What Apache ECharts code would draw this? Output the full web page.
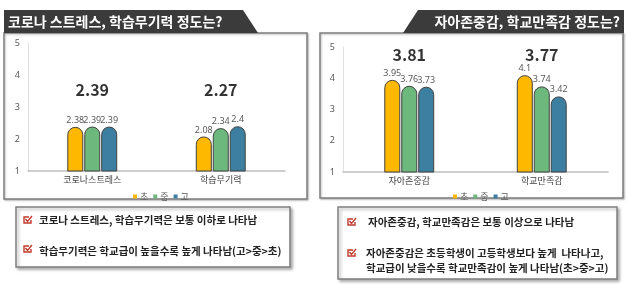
<!DOCTYPE html>
<html>
<head>
<meta charset="utf-8">
<script src="https://cdn.jsdelivr.net/npm/echarts@6/dist/echarts.min.js"></script>
<style>
  html, body { margin: 0; padding: 0; background: #fff; }
  #chart { width: 627px; height: 287px; }
</style>
</head>
<body>
<div id="chart"></div>
<script>
const seriesNames = ["초", "중", "고"];
const seriesColors = ["#FFB800", "#6DB87D", "#3D7FA0"];

// left chart
const leftCategories = ["코로나스트레스", "학습무기력"];
const leftElementary = [2.38, 2.08];
const leftMiddle = [2.39, 2.34];
const leftHigh = [2.39, 2.4];
const leftTotals = [2.39, 2.27];

// right chart
const rightCategories = ["자아존중감", "학교만족감"];
const rightElementary = [3.95, 4.1];
const rightMiddle = [3.76, 3.74];
const rightHigh = [3.73, 3.42];
const rightTotals = [3.81, 3.77];

const yTicks = [1, 2, 3, 4, 5];

const leftTitle = "코로나 스트레스, 학습무기력 정도는?";
const rightTitle = "자아존중감, 학교만족감 정도는?";
const leftNotes = [
  "코로나 스트레스, 학습무기력은 보통 이하로 나타남",
  "학습무기력은 학교급이 높을수록 높게 나타남(고>중>초)",
];
const rightNotes = [
  "자아존중감, 학교만족감은 보통 이상으로 나타남",
  "자아존중감은 초등학생이 고등학생보다 높게  나타나고,",
  "학교급이 낮을수록 학교만족감이 높게 나타남(초>중>고)",
];

const FONT = '"Noto Sans CJK KR", "Noto Sans", sans-serif';

function barSeries(name, color, values, axisIndex) {
  return {
    type: "bar",
    name,
    xAxisIndex: axisIndex,
    yAxisIndex: axisIndex,
    data: values,
    barWidth: 16,
    barGap: "6%",
    itemStyle: {
      color,
      borderColor: "#404040",
      borderWidth: 1,
      borderRadius: [8, 8, 0, 0],
    },
    label: {
      show: true,
      position: "top",
      distance: 2,
      fontFamily: '"Noto Sans", sans-serif',
      fontSize: 9,
      color: "#595959",
    },
  };
}

function totalSeries(totals, level, axisIndex) {
  return {
    type: "scatter",
    xAxisIndex: axisIndex,
    yAxisIndex: axisIndex,
    data: totals.map(() => level),
    symbolSize: 1,
    itemStyle: { color: "rgba(0,0,0,0)" },
    silent: true,
    label: {
      show: true,
      position: "inside",
      formatter: (p) => totals[p.dataIndex].toFixed(2),
      fontFamily: FONT,
      fontSize: 16,
      fontWeight: "bold",
      color: "#000",
    },
  };
}

function checkIcon(x, y) {
  return {
    type: "group",
    x,
    y,
    children: [
      {
        type: "polyline",
        shape: { points: [[5, 0], [0, 0], [0, 6], [7, 6], [7, 3]] },
        style: { stroke: "#C0392B", lineWidth: 1.4, fill: null },
      },
      {
        type: "polyline",
        shape: { points: [[1.5, 2], [3.5, 4.5], [8, -1]] },
        style: { stroke: "#C0392B", lineWidth: 1.4, fill: null },
      },
    ],
  };
}

function noteText(x, y, text) {
  return {
    type: "text",
    x,
    y,
    style: {
      text,
      fontFamily: FONT,
      fontSize: 10.5,
      fontWeight: "bold",
      fill: "#222",
      textVerticalAlign: "middle",
    },
  };
}

const yAxisBase = {
  type: "value",
  min: 1,
  max: 5,
  interval: 1,
  axisLine: { show: true, lineStyle: { color: "#E0E0E0" } },
  axisTick: { show: false },
  splitLine: { show: false },
  axisLabel: { color: "#595959", fontSize: 9, fontFamily: '"Noto Sans", sans-serif', margin: 8 },
};

const xAxisBase = {
  type: "category",
  axisLine: { lineStyle: { color: "#BFBFBF", width: 1.5 } },
  axisTick: { show: false },
  axisLabel: { color: "#404040", fontSize: 9, fontFamily: FONT, margin: 4 },
};

const legendBase = {
  data: seriesNames,
  icon: "rect",
  itemWidth: 4,
  itemHeight: 4,
  itemGap: 5,
  itemStyle: { borderWidth: 0 },
  textStyle: { fontSize: 9, color: "#595959", fontFamily: FONT, padding: [0, 0, 0, -2] },
};

const chart = echarts.init(document.getElementById("chart"));
chart.setOption({
  animation: false,
  color: seriesColors,
  grid: [
    { left: 28, right: 342, top: 43, bottom: 116 },
    { left: 343, right: 19, top: 47, bottom: 115 },
  ],
  xAxis: [
    { ...xAxisBase, gridIndex: 0, data: leftCategories },
    { ...xAxisBase, gridIndex: 1, data: rightCategories },
  ],
  yAxis: [
    { ...yAxisBase, gridIndex: 0 },
    { ...yAxisBase, gridIndex: 1 },
  ],
  legend: [
    { ...legendBase, left: 128, top: 187 },
    { ...legendBase, left: 448, top: 187 },
  ],
  series: [
    barSeries(seriesNames[0], seriesColors[0], leftElementary, 0),
    barSeries(seriesNames[1], seriesColors[1], leftMiddle, 0),
    barSeries(seriesNames[2], seriesColors[2], leftHigh, 0),
    totalSeries(leftTotals, 3.53, 0),
    barSeries(seriesNames[0], seriesColors[0], rightElementary, 1),
    barSeries(seriesNames[1], seriesColors[1], rightMiddle, 1),
    barSeries(seriesNames[2], seriesColors[2], rightHigh, 1),
    totalSeries(rightTotals, 4.74, 1),
  ],
  graphic: [
    // chart frames
    {
      type: "rect",
      z: -1,
      shape: { x: 4, y: 33, width: 303, height: 166 },
      style: { fill: "#fff", stroke: "#7F7F7F", lineWidth: 1.5, shadowBlur: 2, shadowOffsetX: 1, shadowOffsetY: 1, shadowColor: "rgba(0,0,0,0.25)" },
    },
    {
      type: "rect",
      z: -1,
      shape: { x: 320, y: 33, width: 303, height: 165 },
      style: { fill: "#fff", stroke: "#7F7F7F", lineWidth: 1.5, shadowBlur: 2, shadowOffsetX: 1, shadowOffsetY: 1, shadowColor: "rgba(0,0,0,0.25)" },
    },
    // title banners
    {
      type: "polygon",
      shape: { points: [[4, 10], [243, 10], [258, 33], [4, 33]] },
      style: { fill: "#3B3B3B" },
    },
    {
      type: "text",
      x: 8,
      y: 22,
      style: { text: leftTitle, fontFamily: FONT, fontSize: 14, fontWeight: "bold", fill: "#fff", textVerticalAlign: "middle" },
    },
    {
      type: "polygon",
      shape: { points: [[418, 10], [624, 10], [624, 33], [403, 33]] },
      style: { fill: "#3B3B3B" },
    },
    {
      type: "text",
      x: 620,
      y: 22,
      style: { text: rightTitle, fontFamily: FONT, fontSize: 14, fontWeight: "bold", fill: "#fff", textAlign: "right", textVerticalAlign: "middle" },
    },
    // note boxes
    {
      type: "rect",
      shape: { x: 16, y: 207, width: 274, height: 60 },
      style: { fill: "#fff", stroke: "#7F7F7F", lineWidth: 1.5, shadowBlur: 3, shadowOffsetX: 2, shadowOffsetY: 2, shadowColor: "rgba(0,0,0,0.3)" },
    },
    checkIcon(24, 217),
    noteText(39, 220, leftNotes[0]),
    checkIcon(24, 246),
    noteText(39, 251, leftNotes[1]),
    {
      type: "rect",
      shape: { x: 338, y: 207, width: 279, height: 72 },
      style: { fill: "#fff", stroke: "#7F7F7F", lineWidth: 1.5, shadowBlur: 3, shadowOffsetX: 2, shadowOffsetY: 2, shadowColor: "rgba(0,0,0,0.3)" },
    },
    checkIcon(348, 219),
    noteText(368, 222, rightNotes[0]),
    checkIcon(348, 250),
    noteText(366, 253, rightNotes[1]),
    noteText(366, 268, rightNotes[2]),
  ],
});
</script>
</body>
</html>
